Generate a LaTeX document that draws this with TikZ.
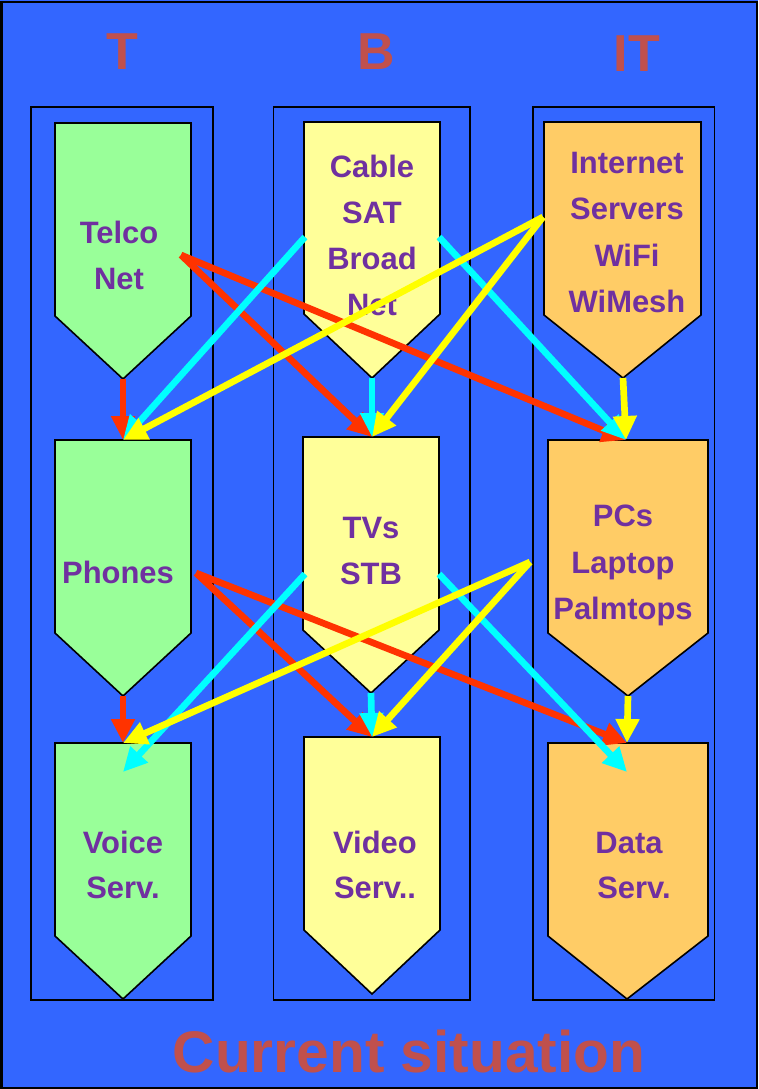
\documentclass[tikz,border=0pt]{standalone}
\usepackage{fontspec}
\setmainfont{Liberation Sans}
\usetikzlibrary{arrows.meta}
\definecolor{bg}{HTML}{3366FF}
\definecolor{tgreen}{HTML}{99FF99}
\definecolor{byellow}{HTML}{FFFF99}
\definecolor{iorange}{HTML}{FFCC66}
\definecolor{txt}{HTML}{7030A0}
\definecolor{ttl}{HTML}{C0504D}
\definecolor{ared}{HTML}{FF3300}
\definecolor{acyan}{HTML}{00FFFF}
\definecolor{ayel}{HTML}{FFFF00}
\newcommand\pentbox[8]{% name, x1, x2, top, shoulder, tip y, tip x, fill
  \draw[pentstyle, fill=#8] (#2,#4) -- (#3,#4) -- (#3,#5) -- (#7,#6) -- (#2,#5) -- cycle;
  \coordinate (#1-tip) at (#7,#6);
}
\begin{document}
\begin{tikzpicture}[x=0.75pt,y=-0.75pt,
  pentstyle/.style={draw=black,line width=1.2pt,line join=miter},
  colbox/.style={draw=black,line width=1.1pt},
  lbl/.style={text=txt,font=\bfseries\fontsize{23.2pt}{34.5pt}\selectfont,anchor=base,inner sep=0pt},
  ttlstyle/.style={text=ttl,font=\bfseries\fontsize{39pt}{39pt}\selectfont,anchor=base,inner sep=0pt},
  conn/.style={line width=5pt,-{Triangle[length=18pt,width=17pt]}},
  redc/.style={conn,draw=ared},
  cyanc/.style={conn,draw=acyan},
  yelc/.style={conn,draw=ayel}]
\useasboundingbox (0,0) rectangle (758,1089);
\fill[bg] (0,0) rectangle (758,1089);
\draw[line width=1.5pt] (1.5,1.5) rectangle (756.5,1087.5);
% titles
\node[ttlstyle] (tT) at (122,69) {T};
\node[ttlstyle] (tB) at (376,69) {B};
\node[ttlstyle] (tIT) at (637,71) {IT};
% columns
\draw[colbox] (31,107) rectangle (213,1000);
\draw[colbox] (273.5,107) rectangle (470,1000);
\draw[colbox] (533,107) rectangle (714.5,1000);
% pentagons
\pentbox{telco}{55}{191}{123}{316}{379}{123}{tgreen}
\pentbox{cable}{304}{440}{122}{314}{378}{372}{byellow}
\pentbox{internet}{544}{701}{122}{315}{378}{623}{iorange}
\pentbox{phones}{55}{191}{440}{633}{696}{123}{tgreen}
\pentbox{tvs}{303}{439}{437}{630}{693}{371}{byellow}
\pentbox{pcs}{548}{708}{440}{633}{696}{628}{iorange}
\pentbox{voice}{55}{191}{743}{936}{999}{123}{tgreen}
\pentbox{video}{304}{440}{737}{930}{994}{372}{byellow}
\pentbox{data}{548}{708}{743}{936}{999}{627}{iorange}
% labels
\node[lbl] (l1) at (119,243) {Telco};
\node[lbl] (l2) at (119,289) {Net};
\node[lbl] (l3) at (372,177) {Cable};
\node[lbl] (l4) at (372,223) {SAT};
\node[lbl] (l5) at (372,269) {Broad};
\node[lbl] (l6) at (372,315) {Net};
\node[lbl] (l7) at (627,173) {Internet};
\node[lbl] (l8) at (627,219) {Servers};
\node[lbl] (l9) at (627,266) {WiFi};
\node[lbl] (l10) at (627,312) {WiMesh};
\node[lbl] (l11) at (118,583) {Phones};
\node[lbl] (l12) at (371,538) {TVs};
\node[lbl] (l13) at (371,584) {STB};
\node[lbl] (l14) at (623,526) {PCs};
\node[lbl] (l15) at (623,573) {Laptop};
\node[lbl] (l16) at (623,619) {Palmtops};
\node[lbl] (l17) at (123,853) {Voice};
\node[lbl] (l18) at (123,898) {Serv.};
\node[lbl] (l19) at (375,853) {Video};
\node[lbl] (l20) at (375,898) {Serv..};
\node[lbl] (l21) at (629,853) {Data};
\node[lbl] (l22) at (634,898) {Serv.};
\node[text=ttl,font=\bfseries\fontsize{44pt}{44pt}\selectfont,anchor=base,inner sep=0pt] (cs) at (409,1072) {Current situation};
% connector end points
\coordinate (telco-out) at (181,255);
\coordinate (phones-out) at (196,573);
\coordinate (cable-left) at (305,237);
\coordinate (cable-right) at (439,237);
\coordinate (tvs-left) at (305,574);
\coordinate (tvs-right) at (439,574);
\coordinate (internet-left) at (543,217);
\coordinate (pcs-left) at (530,562);
\coordinate (phones-top) at (123,440);
\coordinate (tvs-top) at (372,437);
\coordinate (pcs-top) at (626,440);
\coordinate (voice-top) at (123,743);
\coordinate (video-top) at (372,737);
\coordinate (data-top) at (627,743);
\coordinate (voice-in) at (123,772);
\coordinate (data-in) at (627,772);
% red
\draw[redc] (telco-tip) -- (phones-top);
\draw[redc] (telco-out) -- (tvs-top);
\draw[redc] (telco-out) -- (pcs-top);
\draw[redc] (phones-tip) -- (voice-top);
\draw[redc] (phones-out) -- (video-top);
\draw[redc] (phones-out) -- (data-top);
% cyan
\draw[cyanc] (cable-left) -- (phones-top);
\draw[cyanc] (cable-tip) -- (tvs-top);
\draw[cyanc] (cable-right) -- (pcs-top);
\draw[cyanc] (tvs-left) -- (voice-in);
\draw[cyanc] (tvs-tip) -- (video-top);
\draw[cyanc] (tvs-right) -- (data-in);
% yellow
\draw[yelc] (internet-left) -- (phones-top);
\draw[yelc] (internet-left) -- (tvs-top);
\draw[yelc] (internet-tip) -- (pcs-top);
\draw[yelc] (pcs-left) -- (voice-top);
\draw[yelc] (pcs-left) -- (video-top);
\draw[yelc] (pcs-tip) -- (data-top);
\end{tikzpicture}
\end{document}
